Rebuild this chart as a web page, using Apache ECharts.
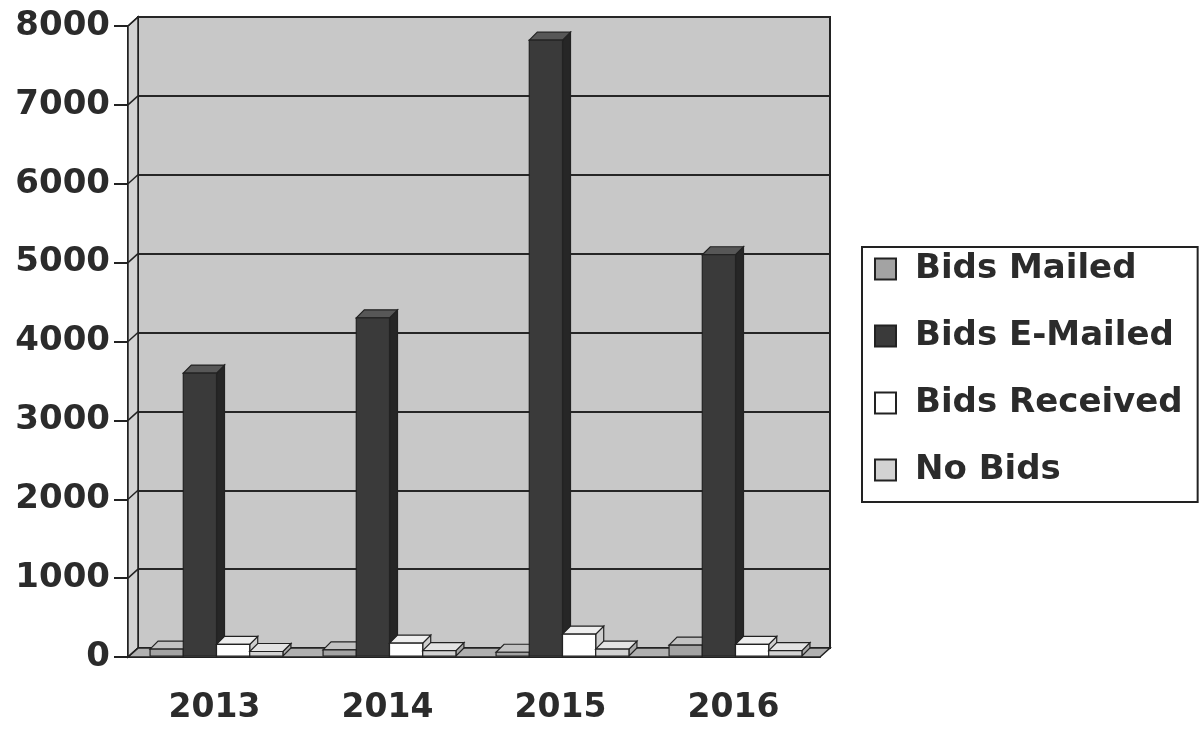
<!DOCTYPE html>
<html>
<head>
<meta charset="utf-8">
<script src="https://cdn.jsdelivr.net/npm/echarts@6/dist/echarts.min.js"></script>
<style>
  html, body { margin: 0; padding: 0; background: #ffffff; }
  #chart { width: 1199px; height: 732px; }
</style>
</head>
<body>
<div id="chart"></div>
<script>
// Bid activity per year
const years = ['2013', '2014', '2015', '2016'];
const bidsMailed = [100, 90, 60, 150];
const bidsEmailed = [3600, 4300, 7820, 5100];
const bidsReceived = [160, 175, 290, 160];
const noBids = [70, 80, 100, 80];
const yTicks = [0, 1000, 2000, 3000, 4000, 5000, 6000, 7000, 8000];

// depth offsets of the pseudo-3D box and of each column
const WALL_DX = 10, WALL_DY = -9;
const BAR_DX = 8, BAR_DY = -8;
const FONT = 'DejaVu Sans';
const TEXT = '#2b2b2b';
const EDGE = '#222222';

const seriesDefs = [
  { name: 'Bids Mailed', values: bidsMailed, front: '#a3a3a3', top: '#c2c2c2', side: '#7a7a7a' },
  { name: 'Bids E-Mailed', values: bidsEmailed, front: '#3a3a3a', top: '#575757', side: '#262626' },
  { name: 'Bids Received', values: bidsReceived, front: '#ffffff', top: '#eeeeee', side: '#cfcfcf' },
  { name: 'No Bids', values: noBids, front: '#d2d2d2', top: '#e4e4e4', side: '#a9a9a9' }
];

function barRenderer(idx, def) {
  return function (params, api) {
    const cat = api.value(0);
    const val = api.value(1);
    const band = api.size([1, 0])[0];
    const w = band * 0.192;
    const center = api.coord([cat, 0])[0];
    const x0 = center + (idx - 2) * w + 2;
    const base = api.coord([cat, 0])[1] - 1;
    const top = api.coord([cat, val])[1];
    const st = { stroke: EDGE, lineWidth: 1.2 };
    return {
      type: 'group',
      children: [
        { type: 'polygon', shape: { points: [[x0 + w, top], [x0 + w + BAR_DX, top + BAR_DY], [x0 + w + BAR_DX, base + BAR_DY], [x0 + w, base]] },
          style: Object.assign({ fill: def.side }, st) },
        { type: 'polygon', shape: { points: [[x0, top], [x0 + w, top], [x0 + w + BAR_DX, top + BAR_DY], [x0 + BAR_DX, top + BAR_DY]] },
          style: Object.assign({ fill: def.top }, st) },
        { type: 'rect', shape: { x: x0, y: top, width: w, height: base - top },
          style: Object.assign({ fill: def.front }, st) }
      ]
    };
  };
}

// side wall, floor and slanted grid lines joining front axis to back wall
function wallRenderer(params, api) {
  const cs = params.coordSys;
  const v = api.value(1);
  const y = api.coord([0, v])[1];
  const yb = api.coord([0, 0])[1];
  const left = cs.x;
  const children = [];
  if (v === 0) {
    children.push({ type: 'polygon', shape: { points: [[left, cs.y], [left + WALL_DX, cs.y + WALL_DY], [left + WALL_DX, yb + WALL_DY], [left, yb]] },
      style: { fill: '#d3d3d3', stroke: EDGE, lineWidth: 1.5 } });
    children.push({ type: 'polygon', shape: { points: [[left, yb], [left + cs.width, yb], [left + cs.width + WALL_DX, yb + WALL_DY], [left + WALL_DX, yb + WALL_DY]] },
      style: { fill: '#b0b0b0', stroke: EDGE, lineWidth: 1.5 } });
  }
  children.push({ type: 'line', shape: { x1: left, y1: y, x2: left + WALL_DX, y2: y + WALL_DY },
    style: { stroke: EDGE, lineWidth: 1.5 } });
  return { type: 'group', children: children };
}

const series = [
  {
    type: 'custom', name: '_walls', xAxisIndex: 1, yAxisIndex: 1, z: 1, silent: true,
    renderItem: wallRenderer,
    data: yTicks.map(v => [0, v]),
    encode: { x: 0, y: 1 }
  }
].concat(seriesDefs.map((def, i) => ({
  type: 'custom',
  name: def.name,
  xAxisIndex: 1, yAxisIndex: 1, z: 2 + i,
  itemStyle: { color: def.front, borderColor: EDGE, borderWidth: 1.5 },
  renderItem: barRenderer(i, def),
  data: def.values.map((v, c) => [c, v]),
  encode: { x: 0, y: 1 }
})));

const chart = echarts.init(document.getElementById('chart'), null, { renderer: 'canvas' });
chart.setOption({
  animation: false,
  backgroundColor: '#ffffff',
  grid: [
    { left: 138, top: 17, right: 369, bottom: 84, show: true, backgroundColor: '#c8c8c8', borderColor: EDGE, borderWidth: 2, z: 0 },
    { left: 128, top: 26, right: 379, bottom: 75 }
  ],
  xAxis: [
    { type: 'category', gridIndex: 0, data: years, show: false },
    {
      type: 'category', gridIndex: 1, data: years,
      axisLine: { lineStyle: { color: EDGE, width: 2 } },
      axisTick: { length: 12, lineStyle: { color: EDGE, width: 2 } },
      axisLabel: { color: TEXT, fontFamily: FONT, fontWeight: 'bold', fontSize: 33, margin: 35 }
    }
  ],
  yAxis: [
    {
      type: 'value', gridIndex: 0, min: 0, max: 8000, interval: 1000,
      axisLine: { show: false }, axisTick: { show: false }, axisLabel: { show: false },
      splitLine: { lineStyle: { color: '#262626', width: 1.8 } }
    },
    {
      type: 'value', gridIndex: 1, min: 0, max: 8000, interval: 1000,
      axisLine: { show: true, lineStyle: { color: EDGE, width: 2 } },
      axisTick: { show: true, length: 14, lineStyle: { color: EDGE, width: 2 } },
      splitLine: { show: false },
      axisLabel: { color: TEXT, fontFamily: FONT, fontWeight: 'bold', fontSize: 34, margin: 18,
        formatter: v => String(v) }
    }
  ],
  legend: {
    data: seriesDefs.map(d => d.name),
    orient: 'vertical',
    left: 862, top: 247,
    padding: [2, 15, 12, 12],
    borderColor: EDGE, borderWidth: 2,
    icon: 'rect',
    itemWidth: 21, itemHeight: 21,
    itemGap: 27,
    selectedMode: false,
    textStyle: { color: TEXT, fontFamily: FONT, fontWeight: 'bold', fontSize: 34, lineHeight: 40, padding: [0, 0, 0, 14] }
  },
  series: series
});
</script>
</body>
</html>
